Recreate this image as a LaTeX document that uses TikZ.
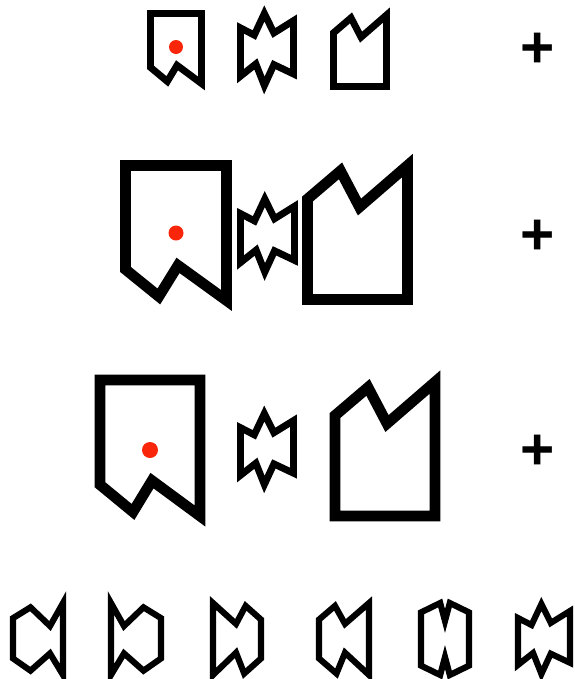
\documentclass[tikz,border=0pt]{standalone}
\usepackage{fontspec}
\setmainfont{Liberation Sans}
\definecolor{dotred}{RGB}{250,38,10}
\tikzset{slim/.style={line width=5.2pt},fat/.style={line width=8pt},
 pennant/.pic={\draw (0,0)--(1,0)--(1,1)--(0.52,0.74)--(0.33,0.97)--(0,0.77)--cycle;},
 burst/.pic={\draw (0,0.2)--(0.26,0.3)--(0.45,0)--(0.63,0.27)--(1,0.1)--(1,0.84)--(0.63,0.71)--(0.45,1)--(0.29,0.7)--(0,0.87)--cycle;},
 house/.pic={\draw (0,0.25)--(0.33,0.04)--(0.52,0.31)--(1,0)--(1,1)--(0,1)--cycle;},
 cupL/.pic={\draw (0,0.21)--(0.35,0.06)--(0.74,0.32)--(1,0)--(1,1)--(0.74,0.7)--(0.35,0.94)--(0,0.77)--cycle;},
 cupR/.pic={\draw (1,0.21)--(0.65,0.06)--(0.26,0.32)--(0,0)--(0,1)--(0.26,0.7)--(0.65,0.94)--(1,0.77)--cycle;},
 tabL/.pic={\draw (0,0)--(0.48,0.29)--(0.68,0.04)--(1,0.23)--(1,0.77)--(0.65,0.98)--(0.48,0.69)--(0,1)--cycle;},
 tabR/.pic={\draw (1,0)--(0.52,0.29)--(0.32,0.04)--(0,0.23)--(0,0.77)--(0.35,0.98)--(0.52,0.69)--(1,1)--cycle;},
 barrel/.pic={\draw (0,0.13)--(0.4,0)--(0.5,0.25)--(0.6,0)--(1,0.13)--(1,0.87)--(0.6,1)--(0.5,0.75)--(0.4,1)--(0,0.87)--cycle;},
 plus/.style={font=\fontsize{44}{44}\selectfont\bfseries,inner sep=0pt}}

\begin{document}
\begin{tikzpicture}[x=0.75pt,y=-0.75pt]
\useasboundingbox (0,0) rectangle (575,679);
% first row
\pic[slim,xscale=51,yscale=70] at (150.5,13.5) {pennant};
\fill[dotred] (176,47) circle[radius=7];
\pic[slim,xscale=53,yscale=72] at (240.5,13.5) {burst};
\pic[slim,xscale=53,yscale=71.5] at (333.5,15) {house};
\node[plus] (plusA) at (538,50) {+};
% second row
\pic[fat,xscale=101,yscale=135] at (125.5,165.5) {pennant};
\fill[dotred] (176,233) circle[radius=7.5];
\pic[slim,xscale=54,yscale=73] at (240.5,199) {burst};
\pic[fat,xscale=100,yscale=134] at (307.5,165.5) {house};
\node[plus] (plusB) at (538,237) {+};
% third row
\pic[fat,xscale=100,yscale=136] at (100,380) {pennant};
\fill[dotred] (150,450) circle[radius=8];
\pic[slim,xscale=53,yscale=71] at (240.5,413.5) {burst};
\pic[fat,xscale=100,yscale=134] at (335,382) {house};
\node[plus] (plusC) at (538,452) {+};
% bottom row
\pic[slim,line width=4.6pt,xscale=50,yscale=72] at (13,603) {cupL};
\pic[slim,line width=4.6pt,xscale=50,yscale=72] at (111,603) {cupR};
\pic[slim,line width=4.6pt,xscale=48,yscale=72] at (213,603) {tabL};
\pic[slim,line width=4.6pt,xscale=50,yscale=72] at (319,603) {tabR};
\pic[slim,line width=4.6pt,xscale=48,yscale=72] at (421,603) {barrel};
\pic[slim,line width=4.6pt,xscale=52,yscale=70] at (518,604) {burst};
\end{tikzpicture}
\end{document}
